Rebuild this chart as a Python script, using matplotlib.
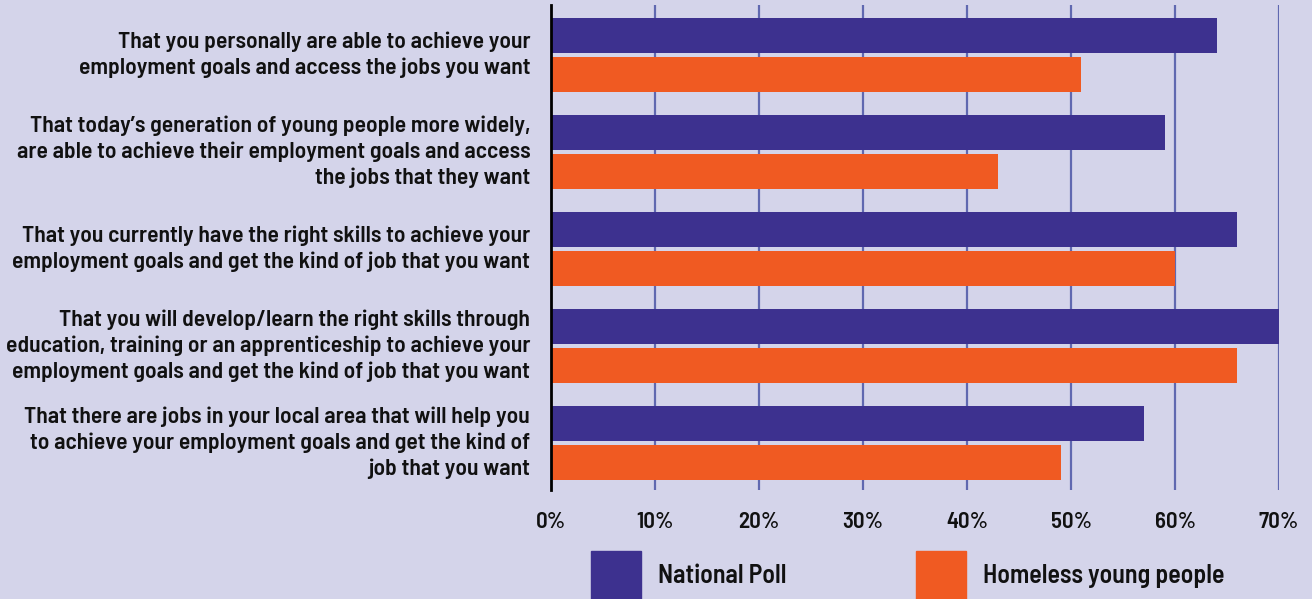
import matplotlib
matplotlib.use("Agg")
import matplotlib.pyplot as plt
from matplotlib import font_manager as fm
from matplotlib.transforms import ScaledTranslation
import numpy as np
import os

# ---- data ----
statements = [
    "That you personally are able to achieve your\nemployment goals and access the jobs you want",
    "That today\u2019s generation of young people more widely,\nare able to achieve their employment goals and access\nthe jobs that they want",
    "That you currently have the right skills to achieve your\nemployment goals and get the kind of job that you want",
    "That you will develop/learn the right skills through\neducation, training or an apprenticeship to achieve your\nemployment goals and get the kind of job that you want",
    "That there are jobs in your local area that will help you\nto achieve your employment goals and get the kind of\njob that you want",
]
national_poll = [64, 59, 66, 70, 57]
homeless_young = [51, 43, 60, 66, 49]
series_names = ["National Poll", "Homeless young people"]
x_ticks = [0, 10, 20, 30, 40, 50, 60, 70]
x_ticklabels = [f"{t}%" for t in x_ticks]

# ---- style ----
BG = "#d4d4ea"
PURPLE = "#3d318f"
ORANGE = "#f05a22"
GRID = "#6068b0"
TEXT = "#111111"


def pick_font():
    """Prefer a semi-condensed bold sans face, fall back to Roboto bold."""
    files = {os.path.basename(f.fname).lower(): f.fname for f in fm.fontManager.ttflist}
    for key in ["barlowsemicondensed-semibold.ttf", "barlowsemicondensed-bold.ttf",
                "barlowsemicondensed-medium.ttf", "barlowcondensed-semibold.ttf",
                "notosans-condensedbold.ttf"]:
        if key in files:
            return fm.FontProperties(fname=files[key])
    return fm.FontProperties(family="Roboto", weight="bold")


fp = pick_font()

W, H, DPI = 1312, 599, 100
fig = plt.figure(figsize=(W / DPI, H / DPI), dpi=DPI, facecolor=BG)
renderer = fig.canvas.get_renderer()


def size_for(text, target_px, ref_size=20):
    t = fig.text(0, 0, text, fontproperties=fp, fontsize=ref_size)
    w = t.get_window_extent(renderer).width
    t.remove()
    return ref_size * target_px / w


label_fs = size_for("employment goals and access the jobs you want", 452)
tick_fs = size_for("10%", 37)
legend_fs = size_for("Homeless young people", 242)

ax = fig.add_axes([551 / W, 1 - 490 / H, (1279 - 551) / W, (490 - 5) / H])
ax.set_facecolor(BG)

n = len(statements)
y = np.arange(n)
bh = 0.36
off = 0.2
ax.barh(y - off, national_poll, height=bh, color=PURPLE, zorder=3)
ax.barh(y + off, homeless_young, height=bh, color=ORANGE, zorder=3)

ax.set_xlim(0, 70)
ax.set_ylim(n - 0.515, -0.515)

for t in x_ticks[1:]:
    ax.axvline(t, color=GRID, lw=1.6, zorder=1)

for s in ["top", "right", "bottom"]:
    ax.spines[s].set_visible(False)
ax.spines["left"].set_color("#000000")
ax.spines["left"].set_linewidth(2)
ax.spines["left"].set_zorder(4)

ax.set_xticks(x_ticks)
ax.set_xticklabels(x_ticklabels, fontproperties=fp, fontsize=tick_fs, color=TEXT)
ax.tick_params(axis="x", length=0, pad=16)
ax.set_yticks(y)
ax.set_yticklabels(statements, fontproperties=fp, fontsize=label_fs, color=TEXT,
                   linespacing=1.33)
ax.tick_params(axis="y", length=0, pad=15)
lift = ScaledTranslation(0, 5 / DPI, fig.dpi_scale_trans)
for lab in ax.get_yticklabels():
    lab.set_transform(lab.get_transform() + lift)

# legend swatches and labels
leg_y0 = 1 - 599 / H
leg_h = (599 - 551) / H
for x0, col, name in [(591, PURPLE, series_names[0]), (916, ORANGE, series_names[1])]:
    fig.patches.append(plt.Rectangle((x0 / W, leg_y0), 50 / W, leg_h,
                                     transform=fig.transFigure, color=col))
    fig.text((x0 + 67) / W, 1 - 576 / H, name, fontproperties=fp, fontsize=legend_fs,
             color=TEXT, va="center", ha="left")

fig.savefig("out.png", dpi=DPI, facecolor=BG)
